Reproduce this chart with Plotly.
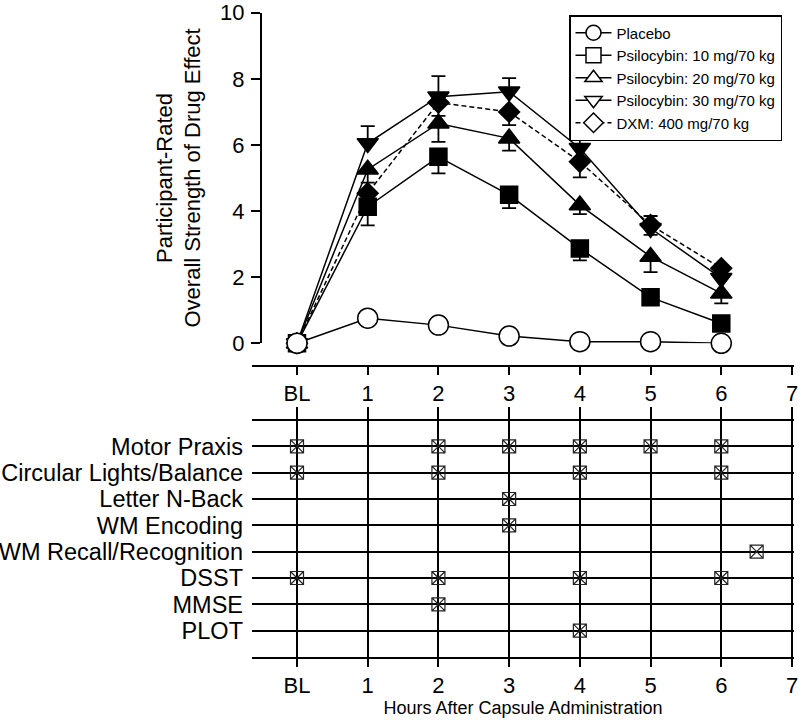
import plotly.graph_objects as go

# ---------------- data ----------------
hours = [0, 1, 2, 3, 4, 5, 6]
axis_ticks = [0, 1, 2, 3, 4, 5, 6, 7]
axis_labels = ["BL", "1", "2", "3", "4", "5", "6", "7"]

placebo = [0, 0.76, 0.55, 0.22, 0.05, 0.05, 0.0]
psi10 = [0, 4.13, 5.64, 4.49, 2.87, 1.39, 0.60]
psi20 = [0, 5.26, 6.65, 6.20, 4.18, 2.62, 1.51]
psi30 = [0, 6.05, 7.46, 7.61, 5.90, 3.48, 1.97]
dxm = [0, 4.54, 7.28, 7.00, 5.49, 3.58, 2.27]

psi10_sem = [0, 0.56, 0.50, 0.40, 0.36, 0.20, 0.15]
psi20_sem = [0, 0.40, 0.56, 0.37, 0.27, 0.47, 0.30]
psi30_sem = [0, 0.52, 0.62, 0.41, 0.53, 0.37, 0.30]
dxm_sem = [0, 0.40, 0.40, 0.40, 0.47, 0.30, 0.30]

tasks = ["Motor Praxis", "Circular Lights/Balance", "Letter N-Back", "WM Encoding",
         "WM Recall/Recognition", "DSST", "MMSE", "PLOT"]
motor_praxis_times = [0, 2, 3, 4, 5, 6]
circular_lights_times = [0, 2, 4, 6]
letter_nback_times = [3]
wm_encoding_times = [3]
wm_recall_times = [6.5]
dsst_times = [0, 2, 4, 6]
mmse_times = [2]
plot_times = [4]
task_times = [motor_praxis_times, circular_lights_times, letter_nback_times, wm_encoding_times,
              wm_recall_times, dsst_times, mmse_times, plot_times]

legend_names = ["Placebo", "Psilocybin: 10 mg/70 kg", "Psilocybin: 20 mg/70 kg",
                "Psilocybin: 30 mg/70 kg", "DXM: 400 mg/70 kg"]

# ---------------- layout helpers (pixel -> paper) ----------------
W, H = 800, 722
def px(x):
    return x / W
def py(y):
    return 1 - y / H

FONT = "Arial, Liberation Sans, sans-serif"
BLACK = "#000000"

fig = go.Figure()

series = [
    (placebo, None, "circle", 20, "white", "solid", 0),
    (psi10, psi10_sem, "square", 17, BLACK, "solid", 1),
    (psi20, psi20_sem, "triangle-up", 18.5, BLACK, "solid", 1),
    (psi30, psi30_sem, "triangle-down", 18.5, BLACK, "solid", -1),
    (dxm, dxm_sem, "diamond", 16, BLACK, "5px,3px", 1),
]
# draw drug series first, placebo last (on top, as in the original)
draw_order = [1, 2, 3, 4, 0]

for idx in draw_order:
    vals, sem, sym, size, fill, dash, direction = series[idx]
    name = legend_names[idx]
    err = None
    if sem is not None:
        zeros = [0] * len(sem)
        if direction < 0:
            err = dict(type="data", symmetric=False, array=sem, arrayminus=zeros,
                       color=BLACK, thickness=1.8, width=7)
        else:
            err = dict(type="data", symmetric=False, array=zeros, arrayminus=sem,
                       color=BLACK, thickness=1.8, width=7)
    fig.add_trace(go.Scatter(
        x=hours, y=vals, mode="lines+markers", name=name, showlegend=False,
        line=dict(color=BLACK, width=1.5, dash=dash),
        marker=dict(symbol=sym, size=size, color=fill, line=dict(color=BLACK, width=1.5)),
        error_y=err, cliponaxis=False, xaxis="x", yaxis="y"))

# legend entries (open symbols as in the original legend)
legend_styles = [("circle", "solid"), ("square", "solid"), ("triangle-up", "solid"),
                 ("triangle-down", "solid"), ("diamond", "5px,3px")]
for (sym, dash), name in zip(legend_styles, legend_names):
    fig.add_trace(go.Scatter(
        x=[None], y=[None], mode="lines+markers", name=name,
        line=dict(color=BLACK, width=1.5, dash=dash),
        marker=dict(symbol=sym, size=15, color="white", line=dict(color=BLACK, width=1.5)),
        xaxis="x", yaxis="y"))

# bottom schedule
for i, (task, times) in enumerate(zip(tasks, task_times)):
    row = len(tasks) - i
    fig.add_trace(go.Scatter(
        x=times, y=[row] * len(times), mode="markers", showlegend=False,
        marker=dict(symbol="square-x-open", size=13, color="#222222",
                    line=dict(color="#222222", width=1.2)),
        cliponaxis=False, xaxis="x2", yaxis="y2"))

x_left = 252
bl_px, seven_px = 297, 792
unit = (seven_px - bl_px) / 7.0
x_right = seven_px + 2
x_range = [-(bl_px - x_left) / unit, 7 + 2 / unit]

row_unit = (657 - 420) / 9.0
y2_top = (657 - 407) / row_unit

axis_common = dict(showgrid=False, zeroline=False, linecolor=BLACK, linewidth=2,
                   tickcolor=BLACK, tickwidth=2, automargin=False,
                   tickfont=dict(family=FONT, size=22, color=BLACK))

fig.update_layout(
    width=W, height=H, margin=dict(l=0, r=0, t=0, b=0),
    paper_bgcolor="white", plot_bgcolor="rgba(0,0,0,0)",
    template="none",
    font=dict(family=FONT, color=BLACK),
    xaxis=dict(axis_common, domain=[px(x_left), px(x_right)], range=x_range,
               anchor="free", position=py(366), showline=True, ticks="outside", ticklen=8,
               tickvals=axis_ticks, ticktext=axis_labels, ticklabeloverflow="allow"),
    yaxis=dict(axis_common, domain=[py(343.3), py(12.7)], range=[0, 10],
               anchor="free", position=px(261), showline=True, ticks="outside", ticklen=9,
               tickvals=[0, 2, 4, 6, 8, 10], ticklabelstandoff=2),
    xaxis2=dict(axis_common, domain=[px(x_left), px(x_right)], range=x_range,
                anchor="y2", showline=True, ticks="outside", ticklen=8,
                tickvals=axis_ticks, ticktext=axis_labels, ticklabeloverflow="allow",
                showgrid=True, gridcolor=BLACK, gridwidth=2,
                title=dict(text="Hours After Capsule Administration",
                           font=dict(family=FONT, size=18, color=BLACK), standoff=4)),
    yaxis2=dict(axis_common, domain=[py(657), py(407)], range=[0, y2_top],
                anchor="x2", showline=False, ticks="", ticklabelstandoff=8,
                tickvals=list(range(0, 10)),
                ticktext=[""] + tasks[::-1] + [""],
                tickfont=dict(family=FONT, size=23.5, color=BLACK),
                showgrid=True, gridcolor=BLACK, gridwidth=2),
    legend=dict(x=px(569), y=py(15), xanchor="left", yanchor="top",
                bgcolor="white", bordercolor=BLACK, borderwidth=1.5, itemwidth=36,
                font=dict(family=FONT, size=15, color=BLACK), traceorder="normal"),
    annotations=[dict(text="Participant-Rated<br>Overall Strength of Drug Effect",
                      x=px(178.5), y=py(178), xref="paper", yref="paper",
                      xanchor="center", yanchor="middle", textangle=-90, showarrow=False,
                      font=dict(family=FONT, size=22, color=BLACK))],
)

fig.write_html("out.html", config={"displayModeBar": False},
               post_script="document.body.style.margin='0px';document.body.style.padding='0px';")
